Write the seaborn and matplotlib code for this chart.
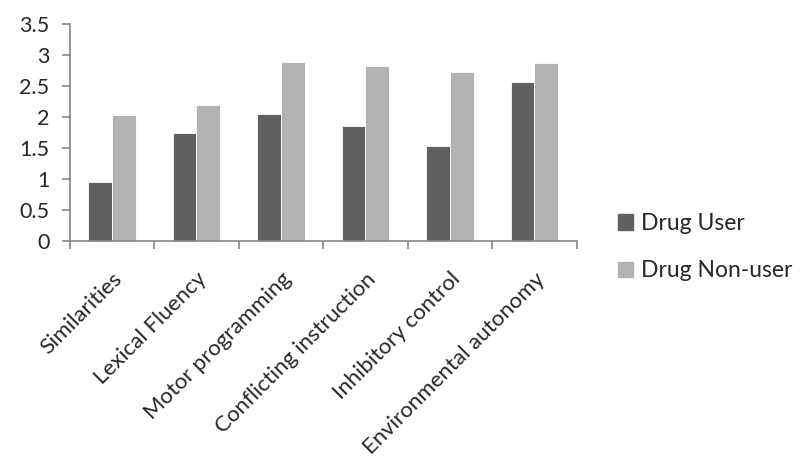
import numpy as np
import pandas as pd
import matplotlib
matplotlib.use("Agg")
import matplotlib.pyplot as plt
import seaborn as sns

# values
tests = ["Similarities", "Lexical Fluency", "Motor programming",
         "Conflicting instruction", "Inhibitory control", "Environmental autonomy"]
drug_user = [0.95, 1.75, 2.05, 1.86, 1.53, 2.57]
drug_non_user = [2.04, 2.20, 2.90, 2.83, 2.73, 2.87]
groups = ["Drug User", "Drug Non-user"]
colors = ["#606060", "#b2b2b2"]

df = pd.DataFrame({
    "Test": tests * 2,
    "Score": drug_user + drug_non_user,
    "Group": [groups[0]] * len(tests) + [groups[1]] * len(tests),
})

sns.set_style("white")
plt.rcParams["font.family"] = ["Lato", "DejaVu Sans"]

fig = plt.figure(figsize=(8.01, 4.71), dpi=100)
ax = fig.add_axes([0.087, 0.488, 0.633, 0.46])

sns.barplot(data=df, x="Test", y="Score", hue="Group", palette=colors,
            width=0.56, ax=ax, legend=False, edgecolor="white", linewidth=0.6)

ax.set_ylim(0, 3.5)
ax.set_yticks(np.arange(0, 3.51, 0.5))
ax.set_yticklabels(["0", "0.5", "1", "1.5", "2", "2.5", "3", "3.5"], fontsize=15.5)
ax.set_xlim(-0.5, len(tests) - 0.5)
ax.set_xticks(range(len(tests)))
ax.set_xticklabels(tests, rotation=45, ha="right", rotation_mode="anchor", fontsize=16)
ax.set_xticks(np.arange(-0.5, len(tests)), minor=True)
ax.tick_params(axis="x", which="major", bottom=True, length=0, pad=20)
ax.tick_params(axis="x", which="minor", bottom=True, length=6, color="#868686",
               width=1.2, direction="out")
ax.tick_params(axis="y", left=True, length=6, color="#868686", width=1.2,
               direction="out", pad=8.5)
ax.set_xlabel("")
ax.set_ylabel("")

for s in ["top", "right"]:
    ax.spines[s].set_visible(False)
for s in ["left", "bottom"]:
    ax.spines[s].set_color("#868686")
    ax.spines[s].set_linewidth(1.2)

handles = [plt.Rectangle((0, 0), 1, 1, color=c) for c in colors]
fig.legend(handles, groups, loc="center left", bbox_to_anchor=(0.772, 0.475),
           frameon=False, fontsize=16.5, handlelength=0.65, handleheight=0.65,
           handletextpad=0.35, labelspacing=1.15, borderpad=0, borderaxespad=0)

fig.savefig("out.png", dpi=100)
